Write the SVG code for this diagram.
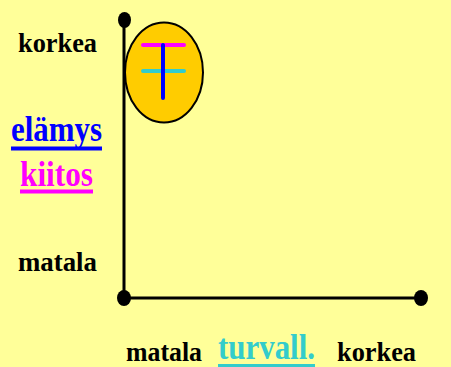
<svg xmlns="http://www.w3.org/2000/svg" width="451" height="367" viewBox="0 0 451 367">
<style>
.t{font-family:"Liberation Serif","Times New Roman",serif;font-weight:bold;font-size:28px}
.c{font-size:36px}
.ax{stroke:#000;stroke-width:3;fill:none}
.dot{fill:#000}
</style>
<rect width="451" height="367" fill="#FFFF99"/>
<g id="connectors">
<line class="ax" x1="124" y1="20" x2="124" y2="298"/>
<line class="ax" x1="124" y1="298" x2="421" y2="298"/>
</g>
<g id="dots">
<ellipse class="dot" cx="124.5" cy="20" rx="6.5" ry="8"/>
<ellipse class="dot" cx="124" cy="298" rx="7" ry="8"/>
<ellipse class="dot" cx="421" cy="298" rx="7" ry="8"/>
</g>
<g id="node">
<ellipse cx="164" cy="72.5" rx="39" ry="50" fill="#FFCC00" stroke="#000" stroke-width="2"/>
<line x1="143" y1="45" x2="184" y2="45" stroke="#FF00FF" stroke-width="4" stroke-linecap="round"/>
<line x1="143" y1="71" x2="184" y2="71" stroke="#33CCCC" stroke-width="4" stroke-linecap="round"/>
<line x1="163" y1="45" x2="163" y2="98" stroke="#0000FF" stroke-width="4" stroke-linecap="round"/>
</g>
<g id="labels">
<text class="t" x="18" y="52" textLength="79" lengthAdjust="spacingAndGlyphs">korkea</text>
<text class="t c" x="11" y="141" fill="#0000FF" textLength="91" lengthAdjust="spacingAndGlyphs">elämys</text>
<rect x="11" y="146.5" width="91" height="4" fill="#0000FF"/>
<text class="t c" x="20" y="186" fill="#FF00FF" textLength="73" lengthAdjust="spacingAndGlyphs">kiitos</text>
<rect x="20" y="189.5" width="73" height="4" fill="#FF00FF"/>
<text class="t" x="18" y="271" textLength="79" lengthAdjust="spacingAndGlyphs">matala</text>
<text class="t" x="126" y="361" textLength="76" lengthAdjust="spacingAndGlyphs">matala</text>
<text class="t c" x="218" y="359" fill="#33CCCC" textLength="97" lengthAdjust="spacingAndGlyphs">turvall.</text>
<rect x="218" y="364" width="97" height="3" fill="#33CCCC"/>
<text class="t" x="337" y="361" textLength="79" lengthAdjust="spacingAndGlyphs">korkea</text>
</g>
</svg>
